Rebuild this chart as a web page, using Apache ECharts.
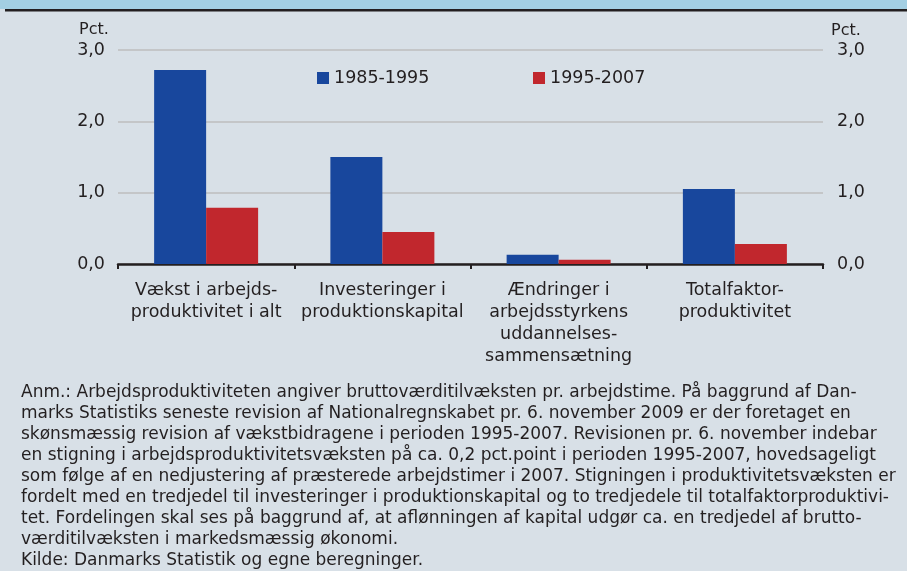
<!DOCTYPE html>
<html>
<head>
<meta charset="utf-8">
<script src="https://cdn.jsdelivr.net/npm/echarts@6/dist/echarts.min.js"></script>
<style>
  html, body {
    margin: 0;
    padding: 0;
    background: #d8e0e7;
  }
  #chart {
    width: 907px;
    height: 571px;
  }
</style>
</head>
<body>
<div id="chart"></div>
<script>
// kategorier (x-akse)
var categories = [
  'Vækst i arbejds-\nproduktivitet i alt',
  'Investeringer i\nproduktionskapital',
  'Ændringer i\narbejdsstyrkens\nuddannelses-\nsammensætning',
  'Totalfaktor-\nproduktivitet'
]
var series_names = ['1985-1995', '1995-2007']
// data, pct.
var values_1985_1995 = [2.72, 1.5, 0.13, 1.05]
var values_1995_2007 = [0.79, 0.45, 0.06, 0.28]
// y-akse
var y_ticks = [0, 1, 2, 3]
var unit_label = 'Pct.'
// note under figuren
var note_lines = [
  'Anm.: Arbejdsproduktiviteten angiver bruttoværditilvæksten pr. arbejdstime. På baggrund af Dan-',
  'marks Statistiks seneste revision af Nationalregnskabet pr. 6. november 2009 er der foretaget en',
  'skønsmæssig revision af vækstbidragene i perioden 1995-2007. Revisionen pr. 6. november indebar',
  'en stigning i arbejdsproduktivitetsvæksten på ca. 0,2 pct.point i perioden 1995-2007, hovedsageligt',
  'som følge af en nedjustering af præsterede arbejdstimer i 2007. Stigningen i produktivitetsvæksten er',
  'fordelt med en tredjedel til investeringer i produktionskapital og to tredjedele til totalfaktorproduktivi-',
  'tet. Fordelingen skal ses på baggrund af, at aflønningen af kapital udgør ca. en tredjedel af brutto-',
  'værditilvæksten i markedsmæssig økonomi.',
  'Kilde: Danmarks Statistik og egne beregninger.'
]

var font = 'DejaVu Sans'
var text_color = '#231f20'
var colors = ['#18479d', '#c1272d']

var myChart = echarts.init(document.getElementById('chart'))

function fmt(value) {
  return value.toFixed(1).replace('.', ',')
}

var graphic = [
  // blå bjælke i toppen
  { type: 'rect', shape: { x: 0, y: 0, width: 907, height: 9 }, style: { fill: '#a3cfe3' }, silent: true },
  { type: 'rect', shape: { x: 5, y: 9, width: 902, height: 2.5 }, style: { fill: text_color }, silent: true },
  {
    type: 'text', x: 94, y: 30,
    style: { text: unit_label, fontFamily: font, fontSize: 16, fill: text_color, align: 'center', verticalAlign: 'middle' }
  },
  {
    type: 'text', x: 846, y: 31,
    style: { text: unit_label, fontFamily: font, fontSize: 16, fill: text_color, align: 'center', verticalAlign: 'middle' }
  }
]
note_lines.forEach(function(line, i) {
  graphic.push({
    type: 'text', x: 21, y: 393 + i * 21,
    style: { text: line, fontFamily: font, fontSize: 17, fill: text_color, align: 'left', verticalAlign: 'middle' }
  })
})

var yAxisBase = {
  type: 'value',
  min: y_ticks[0],
  max: y_ticks[y_ticks.length - 1],
  interval: 1,
  axisLine: { show: false },
  axisTick: { show: false }
}

var option = {
  animation: false,
  backgroundColor: '#d8e0e7',
  color: colors,
  textStyle: { fontFamily: font },
  grid: { left: 118, right: 84, top: 50, bottom: 307, containLabel: false },
  legend: [
    {
      data: [series_names[0]], left: 312, top: 64, itemWidth: 12, itemHeight: 12, itemGap: 0,
      icon: 'rect',
      textStyle: { fontFamily: font, fontSize: 17.5, color: text_color, lineHeight: 18 }
    },
    {
      data: [series_names[1]], left: 528, top: 64, itemWidth: 12, itemHeight: 12, itemGap: 0,
      icon: 'rect',
      textStyle: { fontFamily: font, fontSize: 17.5, color: text_color, lineHeight: 18 }
    }
  ],
  xAxis: {
    type: 'category',
    data: categories,
    boundaryGap: true,
    axisLine: { show: true, lineStyle: { color: text_color, width: 2.5 } },
    axisTick: { show: true, length: 5, lineStyle: { color: text_color, width: 2 } },
    axisLabel: {
      interval: 0,
      margin: 15,
      fontFamily: font,
      fontSize: 17.5,
      lineHeight: 22,
      color: text_color,
      align: 'center'
    },
    splitLine: { show: false }
  },
  yAxis: [
    Object.assign({}, yAxisBase, {
      position: 'left',
      axisLabel: { margin: 13, fontFamily: font, fontSize: 17.5, color: text_color, formatter: fmt },
      splitLine: { show: true, lineStyle: { color: '#c4c6c8', width: 2 } }
    }),
    Object.assign({}, yAxisBase, {
      position: 'right',
      axisLabel: { margin: 14, fontFamily: font, fontSize: 17.5, color: text_color, formatter: fmt },
      splitLine: { show: false }
    })
  ],
  series: [
    {
      name: series_names[0],
      type: 'bar',
      data: values_1985_1995,
      barWidth: 52,
      barGap: '0%'
    },
    {
      name: series_names[1],
      type: 'bar',
      data: values_1995_2007,
      barWidth: 52,
      barGap: '0%'
    }
  ],
  graphic: graphic
}

myChart.setOption(option)
</script>
</body>
</html>
